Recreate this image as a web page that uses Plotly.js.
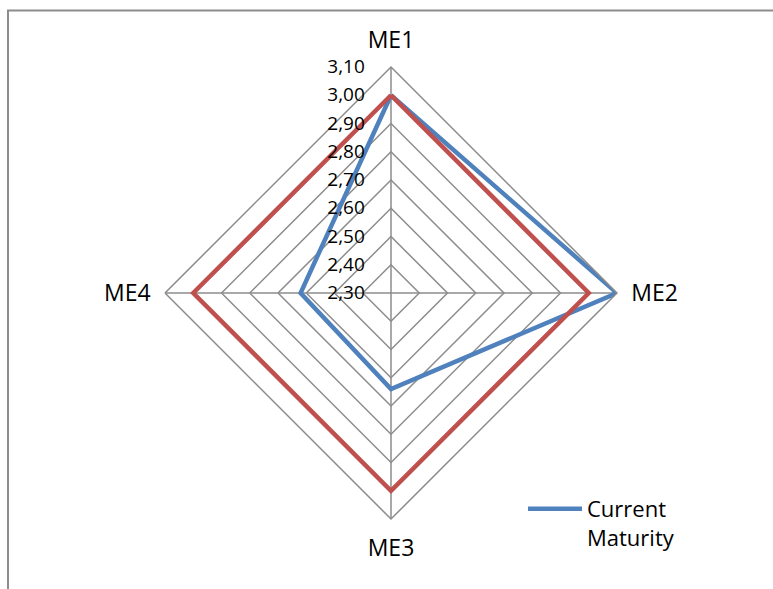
<!DOCTYPE html>
<html>
<head>
<meta charset="utf-8">
<script src="https://cdn.plot.ly/plotly-3.0.1.min.js"></script>
<style>
  html, body { margin: 0; padding: 0; background: #ffffff; }
  #chart { width: 773px; height: 589px; }
</style>
</head>
<body>
<div id="chart"></div>
<script>
// Maturity elements around the radar
const categories = ['ME1', 'ME2', 'ME3', 'ME4'];
// Assessed current maturity per element
const currentMaturity = [3.00, 3.10, 2.64, 2.62];
// Reference level per element
const targetMaturity = [3.00, 3.00, 3.00, 3.00];
// Radial scale
const radialMin = 2.30;
const radialMax = 3.10;
const radialStep = 0.10;

// Close each polygon by repeating the first vertex
const closeLoop = arr => arr.concat([arr[0]]);

const gridGray = '#8c8c8c';
const fontFamily = '"Open Sans", "Noto Sans", sans-serif';

const traces = [
  {
    type: 'scatterpolar',
    mode: 'lines',
    name: 'Current<br>Maturity',
    r: closeLoop(currentMaturity),
    theta: closeLoop(categories),
    line: { color: '#4F81BD', width: 4.5 },
    showlegend: true
  },
  {
    type: 'scatterpolar',
    mode: 'lines',
    name: 'Target',
    r: closeLoop(targetMaturity),
    theta: closeLoop(categories),
    line: { color: '#C0504D', width: 4.5 },
    showlegend: false
  }
];

const layout = {
  width: 773,
  height: 589,
  margin: { l: 0, r: 0, t: 0, b: 0 },
  paper_bgcolor: '#ffffff',
  separators: ',.',
  font: { family: fontFamily, color: '#000000' },
  polar: {
    domain: { x: [165 / 773, 617 / 773], y: [1 - 519 / 589, 1 - 67 / 589] },
    bgcolor: '#ffffff',
    gridshape: 'linear',
    angularaxis: {
      direction: 'clockwise',
      rotation: 90,
      type: 'category',
      showline: true,
      linecolor: gridGray,
      linewidth: 1.5,
      gridcolor: gridGray,
      gridwidth: 1.5,
      ticks: 'outside',
      ticklen: 9,
      tickcolor: 'rgba(0,0,0,0)',
      tickfont: { size: 23, family: fontFamily, color: '#000000' }
    },
    radialaxis: {
      range: [radialMin, radialMax],
      tick0: radialMin,
      dtick: radialStep,
      tickformat: '.2f',
      angle: 90,
      tickangle: 90,
      side: 'counterclockwise',
      showline: false,
      ticks: 'outside',
      ticklen: 19,
      tickcolor: 'rgba(0,0,0,0)',
      gridcolor: gridGray,
      gridwidth: 1.5,
      tickfont: { size: 19, family: fontFamily, color: '#000000' }
    }
  },
  legend: {
    x: 523 / 773,
    y: 1 - 488 / 589,
    xanchor: 'left',
    yanchor: 'top',
    valign: 'top',
    bgcolor: 'rgba(0,0,0,0)',
    font: { size: 22, family: fontFamily, color: '#000000' },
    itemwidth: 54
  },
  shapes: [
    {
      type: 'rect',
      xref: 'paper', yref: 'paper',
      x0: 8 / 773, x1: 1.02,
      y0: -0.02, y1: 1 - 10.5 / 589,
      line: { color: '#8c8c8c', width: 2 },
      fillcolor: 'rgba(0,0,0,0)',
      layer: 'below'
    }
  ]
};

Plotly.newPlot('chart', traces, layout, { displayModeBar: false, staticPlot: true });
</script>
</body>
</html>
